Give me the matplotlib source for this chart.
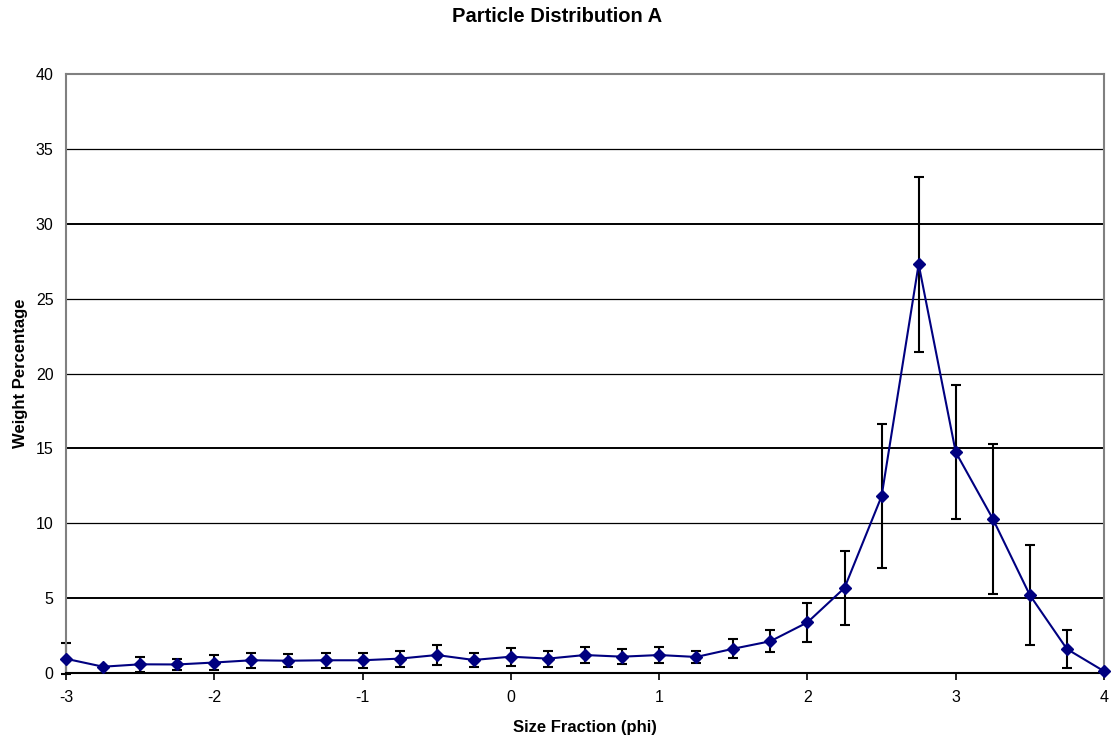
import matplotlib
matplotlib.use("Agg")
import matplotlib.pyplot as plt
import numpy as np

plt.rcParams['font.family'] = ['Liberation Sans', 'DejaVu Sans']

phi = [-3, -2.75, -2.5, -2.25, -2, -1.75, -1.5, -1.25, -1, -0.75, -0.5, -0.25,
       0, 0.25, 0.5, 0.75, 1, 1.25, 1.5, 1.75, 2, 2.25, 2.5, 2.75, 3, 3.25, 3.5, 3.75, 4]
weight = [0.95, 0.42, 0.58, 0.57, 0.7, 0.85, 0.82, 0.85, 0.85, 0.96, 1.2, 0.87,
          1.09, 0.96, 1.2, 1.09, 1.2, 1.07, 1.62, 2.12, 3.38, 5.68, 11.8, 27.3,
          14.75, 10.3, 5.2, 1.6, 0.12]
err = [1.05, 0.0, 0.48, 0.38, 0.47, 0.5, 0.42, 0.5, 0.5, 0.53, 0.65, 0.47,
       0.6, 0.53, 0.53, 0.52, 0.53, 0.4, 0.65, 0.72, 1.28, 2.48, 4.8, 5.85,
       4.47, 5.0, 3.35, 1.27, 0.0]

yticks = [0, 5, 10, 15, 20, 25, 30, 35, 40]
xticks = [-3, -2, -1, 0, 1, 2, 3, 4]

fig = plt.figure(figsize=(11.14, 7.38), dpi=100)
ax = fig.add_axes([66/1114, 1 - 673/738, (1104-66)/1114, (673-74)/738])

for yv in yticks[1:-1]:
    lw = 1.4 if yv in (5, 15, 30) else 0.9
    ax.axhline(yv, color='black', lw=lw, zorder=1)

ax.errorbar(phi, weight, yerr=err, fmt='none', ecolor='black', elinewidth=1.5,
            capsize=3.8, capthick=1.5, zorder=2, clip_on=False)
ax.plot(phi, weight, color='#000080', lw=1.5, marker='D', markersize=6.5,
        markerfacecolor='#000080', markeredgecolor='#000080', zorder=3, clip_on=False)

ax.set_xlim(-3, 4)
ax.set_ylim(0, 40)
ax.set_xticks(xticks)
ax.set_xticklabels([str(v) for v in xticks])
ax.set_yticks(yticks)

for s in ('left', 'top', 'right'):
    ax.spines[s].set_color('#808080')
    ax.spines[s].set_linewidth(1.5)
ax.spines['bottom'].set_color('black')
ax.spines['bottom'].set_linewidth(1.5)

ax.tick_params(axis='x', direction='out', length=5, width=1.2, labelsize=11.5, pad=7.5, colors='black')
ax.tick_params(axis='y', length=0, labelsize=11.5, pad=9)

ax.set_xlabel('Size Fraction (phi)', fontsize=12, fontweight='bold', labelpad=10.5)
ax.set_ylabel('Weight Percentage', fontsize=12, fontweight='bold', labelpad=5.5)
fig.suptitle('Particle Distribution A', fontsize=14.5, fontweight='bold', y=1 - 16/738, va='center')

fig.savefig('out.png', dpi=100)
